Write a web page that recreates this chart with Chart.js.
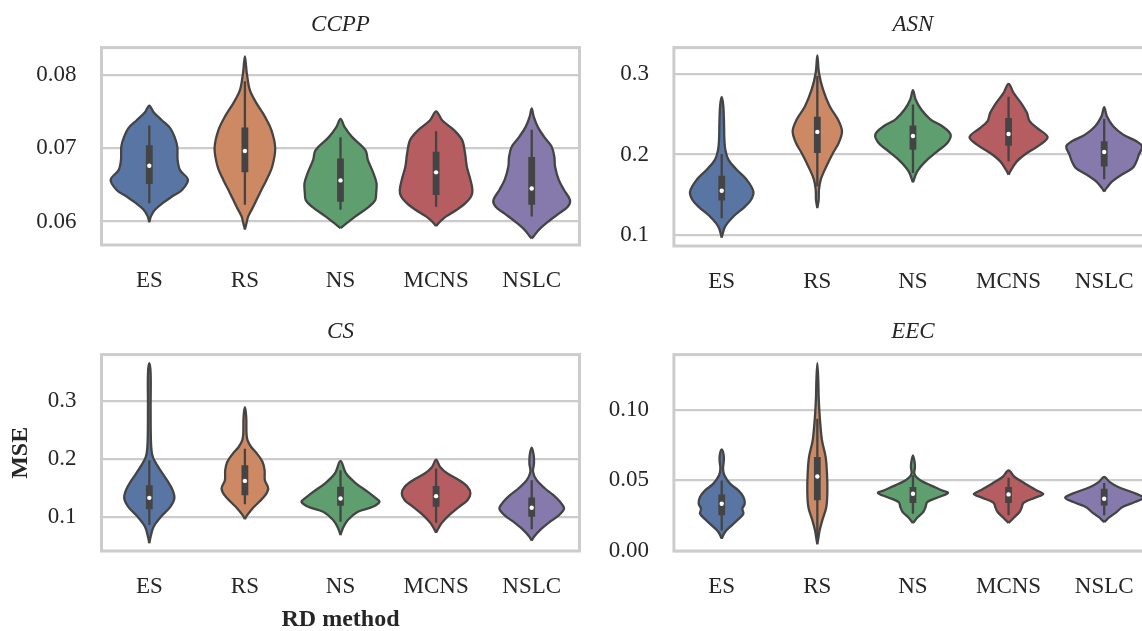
<!DOCTYPE html>
<html>
<head>
<meta charset="utf-8">
<script src="https://cdn.jsdelivr.net/npm/chart.js@4.4.1/dist/chart.umd.min.js"></script>
<style>
    body { margin: 0; width: 1142px; height: 631px; overflow: hidden; background: #fff; position: relative; }
    canvas { position: absolute; }
</style>
</head>
<body>
<canvas id="chartCCPP" width="590" height="305" style="left:0;top:0"></canvas>
<canvas id="chartASN" width="572" height="306" style="left:590px;top:0"></canvas>
<canvas id="chartCS" width="590" height="330" style="left:0;top:307px"></canvas>
<canvas id="chartEEC" width="572" height="304" style="left:590px;top:307px"></canvas>
<script>
// ===== DATA =====
const methods = ['ES', 'RS', 'NS', 'MCNS', 'NSLC'];

// y ticks of each panel
const ccppTicks = [0.06, 0.07, 0.08];
const ccppTickLabels = ['0.06', '0.07', '0.08'];
const asnTicks = [0.1, 0.2, 0.3];
const asnTickLabels = ['0.1', '0.2', '0.3'];
const csTicks = [0.1, 0.2, 0.3];
const csTickLabels = ['0.1', '0.2', '0.3'];
const eecTicks = [0, 0.05, 0.1];
const eecTickLabels = ['0.00', '0.05', '0.10'];

// violin profiles: [MSE, relative density] from bottom to top
const ccppES = [[0.0599,0],[0.0607,0.017],[0.0616,0.059],[0.0625,0.139],[0.0634,0.237],[0.0643,0.342],[0.0657,0.404],[0.0670,0.321],[0.0684,0.296],[0.0702,0.293],[0.0715,0.265],[0.0727,0.22],[0.0738,0.132],[0.0749,0.045],[0.0758,0]];
const ccppRS = [[0.0589,0],[0.0598,0.017],[0.0607,0.035],[0.0620,0.087],[0.0639,0.157],[0.0657,0.227],[0.0675,0.286],[0.0700,0.317],[0.0724,0.279],[0.0743,0.209],[0.0761,0.122],[0.0779,0.052],[0.0801,0.021],[0.0812,0.012],[0.0825,0]];
const ccppNS = [[0.0591,0],[0.0596,0.049],[0.0607,0.157],[0.0620,0.296],[0.0629,0.363],[0.0639,0.373],[0.0652,0.377],[0.0668,0.338],[0.0684,0.286],[0.0697,0.262],[0.0715,0.122],[0.0729,0.042],[0.0740,0]];
const ccppMCNS = [[0.0594,0],[0.0600,0.042],[0.0607,0.105],[0.0616,0.216],[0.0625,0.307],[0.0634,0.366],[0.0643,0.38],[0.0657,0.359],[0.0675,0.321],[0.0693,0.303],[0.0711,0.272],[0.0724,0.192],[0.0738,0.063],[0.0750,0]];
const ccppNSLC = [[0.0577,0],[0.0580,0.021],[0.0589,0.077],[0.0600,0.174],[0.0611,0.286],[0.0620,0.377],[0.0629,0.401],[0.0643,0.338],[0.0657,0.282],[0.0675,0.244],[0.0688,0.237],[0.0702,0.209],[0.0715,0.132],[0.0729,0.063],[0.0743,0.021],[0.0754,0]];

const asnES = [[0.0967,0],[0.1104,0.035],[0.1229,0.122],[0.1353,0.244],[0.1437,0.307],[0.1541,0.331],[0.1686,0.262],[0.1811,0.157],[0.1936,0.07],[0.206,0.038],[0.2185,0.028],[0.2393,0.024],[0.2601,0.017],[0.2717,0]];
const asnRS = [[0.1333,0],[0.1437,0.014],[0.1561,0.017],[0.1686,0.035],[0.1852,0.094],[0.2019,0.164],[0.2143,0.223],[0.2289,0.258],[0.2434,0.216],[0.2601,0.129],[0.2809,0.059],[0.3017,0.017],[0.3233,0]];
const asnNS = [[0.1653,0],[0.179,0.045],[0.1915,0.132],[0.204,0.255],[0.2143,0.359],[0.2247,0.394],[0.2351,0.307],[0.2434,0.185],[0.2559,0.087],[0.2684,0.028],[0.28,0]];
const asnMCNS = [[0.1748,0],[0.1811,0.028],[0.1915,0.087],[0.2019,0.192],[0.2123,0.331],[0.2218,0.408],[0.2331,0.296],[0.2414,0.22],[0.2518,0.192],[0.2642,0.129],[0.2767,0.052],[0.2879,0]];
const asnNSLC = [[0.154,0],[0.1582,0.024],[0.1665,0.084],[0.1748,0.181],[0.1832,0.296],[0.1915,0.338],[0.1998,0.363],[0.2102,0.397],[0.2164,0.338],[0.2247,0.199],[0.2351,0.094],[0.2476,0.028],[0.2588,0]];

const csES = [[0.0553,0],[0.0668,0.014],[0.084,0.045],[0.1012,0.122],[0.1183,0.22],[0.1327,0.262],[0.147,0.244],[0.1642,0.185],[0.1814,0.115],[0.1986,0.052],[0.21,0.028],[0.233,0.017],[0.2903,0.014],[0.3476,0.014],[0.3659,0]];
const csRS = [[0.0971,0],[0.104,0.024],[0.1155,0.08],[0.1269,0.15],[0.1384,0.213],[0.1499,0.244],[0.1642,0.209],[0.1814,0.206],[0.1957,0.185],[0.21,0.126],[0.2215,0.066],[0.233,0.028],[0.2444,0.017],[0.2731,0.014],[0.2903,0]];
const csNS = [[0.0696,0],[0.0811,0.024],[0.0954,0.077],[0.1097,0.181],[0.1183,0.338],[0.127,0.408],[0.1327,0.373],[0.1441,0.286],[0.1585,0.164],[0.1757,0.059],[0.1974,0]];
const csMCNS = [[0.0736,0],[0.0782,0.014],[0.0897,0.056],[0.104,0.136],[0.1183,0.241],[0.1298,0.328],[0.1413,0.359],[0.1527,0.328],[0.1642,0.241],[0.1757,0.119],[0.1871,0.042],[0.1997,0]];
const csNSLC = [[0.0599,0],[0.0668,0.024],[0.0782,0.087],[0.0926,0.192],[0.104,0.286],[0.1155,0.338],[0.1269,0.296],[0.1384,0.227],[0.1499,0.139],[0.1642,0.052],[0.1785,0.014],[0.1928,0.024],[0.2072,0.021],[0.2204,0]];

const eecES = [[0.0088,0],[0.0135,0.035],[0.0182,0.105],[0.0229,0.181],[0.0264,0.227],[0.03,0.216],[0.0335,0.241],[0.0382,0.227],[0.0429,0.174],[0.0477,0.087],[0.0536,0.028],[0.0583,0.014],[0.063,0.021],[0.0677,0.021],[0.0719,0]];
const eecRS = [[0.0047,0],[0.0088,0.01],[0.0146,0.024],[0.0217,0.052],[0.0312,0.094],[0.0429,0.105],[0.0547,0.101],[0.0665,0.087],[0.0783,0.049],[0.0901,0.031],[0.0995,0.021],[0.109,0.014],[0.1208,0.01],[0.133,0]];
const eecNS = [[0.0198,0],[0.0241,0.052],[0.0276,0.108],[0.0312,0.132],[0.0347,0.15],[0.0382,0.272],[0.0411,0.366],[0.0429,0.307],[0.0465,0.185],[0.05,0.08],[0.0524,0.035],[0.0552,0.014],[0.0594,0.021],[0.063,0.017],[0.0677,0]];
const eecMCNS = [[0.0198,0],[0.0234,0.052],[0.0276,0.115],[0.0312,0.139],[0.0342,0.157],[0.0378,0.279],[0.0403,0.363],[0.0429,0.296],[0.0477,0.174],[0.0524,0.063],[0.0571,0]];
const eecNSLC = [[0.0205,0],[0.0241,0.059],[0.0276,0.129],[0.0312,0.192],[0.0347,0.321],[0.0378,0.408],[0.0418,0.286],[0.0453,0.146],[0.0488,0.059],[0.0524,0]];

// box stats: [lower whisker, Q1, median, Q3, upper whisker]
const ccppBoxes = [[0.0625,0.0651,0.0676,0.0704,0.0731],[0.0623,0.0667,0.0696,0.0728,0.0791],[0.0616,0.0627,0.0656,0.0686,0.0715],[0.0620,0.0636,0.0667,0.0695,0.0723],[0.0607,0.0623,0.0645,0.0688,0.0725]];
const asnBoxes = [[0.1208,0.1428,0.1549,0.1736,0.2006],[0.1603,0.2019,0.2281,0.2468,0.2975],[0.1769,0.206,0.2231,0.236,0.2622],[0.1915,0.211,0.2256,0.2455,0.2717],[0.1694,0.1852,0.2031,0.2164,0.2443]];
const csBoxes = [[0.0868,0.1143,0.1338,0.1556,0.1986],[0.1229,0.1384,0.163,0.19,0.2186],[0.0926,0.12,0.1327,0.1527,0.1814],[0.0908,0.1183,0.1367,0.1544,0.1842],[0.0794,0.1012,0.1166,0.1344,0.1642]];
const eecBoxes = [[0.0146,0.0253,0.0335,0.0401,0.05],[0.0099,0.0359,0.0528,0.0665,0.0936],[0.0264,0.034,0.0406,0.0453,0.0536],[0.0253,0.034,0.0401,0.0453,0.0519],[0.0253,0.0323,0.037,0.0441,0.0481]];

// ===== STYLE =====
const palette = ['#5875a4', '#cc8963', '#5f9e6e', '#b55d60', '#857aab'];
const lineGray = '#444444';
const textColor = '#262626';
const serif = "'Liberation Serif', 'Times New Roman', serif";

Chart.defaults.font.family = serif;
Chart.defaults.color = textColor;

// khung xám quanh vùng vẽ
const framePlugin = {
    id: 'frame',
    beforeDatasetsDraw(chart) {
        const { ctx, chartArea: a } = chart;
        ctx.save();
        ctx.strokeStyle = '#cccccc';
        ctx.lineWidth = 3;
        ctx.strokeRect(a.left, a.top, a.right - a.left, a.bottom - a.top);
        ctx.restore();
    }
};

function violinDatasets(profiles, boxes) {
    const sets = [];
    profiles.forEach((prof, i) => {
        const right = prof.map(([v, d]) => ({ x: i + d, y: v }));
        const left = prof.slice(0, -1).reverse().map(([v, d]) => ({ x: i - d, y: v }));
        sets.push({
            data: right.concat(left),
            showLine: true,
            fill: 'shape',
            backgroundColor: palette[i],
            borderColor: lineGray,
            borderWidth: 2.3,
            borderJoinStyle: 'round',
            pointRadius: 0,
            tension: 0.35,
            order: 3
        });
        const [lo, q1, med, q3, hi] = boxes[i];
        sets.push({
            data: [{ x: i, y: lo }, { x: i, y: hi }],
            showLine: true, borderColor: lineGray, borderWidth: 2.3, pointRadius: 0, order: 2
        });
        sets.push({
            data: [{ x: i, y: q1 }, { x: i, y: q3 }],
            showLine: true, borderColor: lineGray, borderWidth: 6.8, borderCapStyle: 'butt', pointRadius: 0, order: 1
        });
        sets.push({
            data: [{ x: i, y: med }],
            pointRadius: 2.2, pointBackgroundColor: '#ffffff', pointBorderWidth: 0, order: 0
        });
    });
    return sets;
}

function makeChart(id, title, profiles, boxes, yMin, yMax, yTicks, yLabels, cfg) {
    new Chart(document.getElementById(id), {
        type: 'scatter',
        data: { datasets: violinDatasets(profiles, boxes) },
        options: {
            responsive: false,
            animation: false,
            events: [],
            layout: { padding: { right: cfg.padRight } },
            plugins: {
                legend: { display: false },
                tooltip: { enabled: false },
                title: {
                    display: true,
                    text: title,
                    fullSize: false,
                    color: textColor,
                    font: { size: 23, style: 'italic', weight: 'normal' },
                    padding: { top: 11, bottom: 9 }
                }
            },
            scales: {
                x: {
                    type: 'linear',
                    min: -0.5,
                    max: 4.5,
                    grid: { display: false, drawTicks: false },
                    border: { display: false },
                    afterBuildTicks: s => { s.ticks = methods.map((m, i) => ({ value: i })); },
                    afterFit: s => { s.height = cfg.xHeight; },
                    ticks: {
                        padding: 22,
                        autoSkip: false,
                        maxRotation: 0,
                        color: textColor,
                        font: { size: 23 },
                        callback: v => methods[v]
                    },
                    title: {
                        display: !!cfg.xTitle,
                        text: cfg.xTitle || '',
                        color: textColor,
                        font: { size: 24, weight: 'bold' },
                        padding: { top: 0, bottom: 2.6 }
                    }
                },
                y: {
                    min: yMin,
                    max: yMax,
                    grid: { color: '#cccccc', lineWidth: 2.2, drawTicks: false },
                    border: { display: false },
                    afterBuildTicks: s => { s.ticks = yTicks.map(v => ({ value: v })); },
                    afterFit: s => { s.width = cfg.yWidth; },
                    ticks: {
                        padding: 25,
                        color: textColor,
                        font: { size: 23 },
                        callback: (v, i) => yLabels[i]
                    },
                    title: {
                        display: !!cfg.yTitle,
                        text: cfg.yTitle || '',
                        color: textColor,
                        font: { size: 24, weight: 'bold' },
                        padding: { top: 6.6, bottom: 0 }
                    }
                }
            }
        },
        plugins: [framePlugin]
    });
}

makeChart('chartCCPP', 'CCPP', [ccppES, ccppRS, ccppNS, ccppMCNS, ccppNSLC], ccppBoxes,
    0.0568, 0.0837, ccppTicks, ccppTickLabels, { yWidth: 101.5, xHeight: 60, padRight: 10.5 });
makeChart('chartASN', 'ASN', [asnES, asnRS, asnNS, asnMCNS, asnNSLC], asnBoxes,
    0.0863, 0.3329, asnTicks, asnTickLabels, { yWidth: 83.9, xHeight: 60, padRight: 10 });
makeChart('chartCS', 'CS', [csES, csRS, csNS, csMCNS, csNSLC], csBoxes,
    0.0421, 0.3808, csTicks, csTickLabels, { yWidth: 101.5, xHeight: 86, padRight: 10.5, xTitle: 'RD method', yTitle: 'MSE' });
makeChart('chartEEC', 'EEC', [eecES, eecRS, eecNS, eecMCNS, eecNSLC], eecBoxes,
    0, 0.1391, eecTicks, eecTickLabels, { yWidth: 83.9, xHeight: 60, padRight: 10 });
</script>
</body>
</html>
